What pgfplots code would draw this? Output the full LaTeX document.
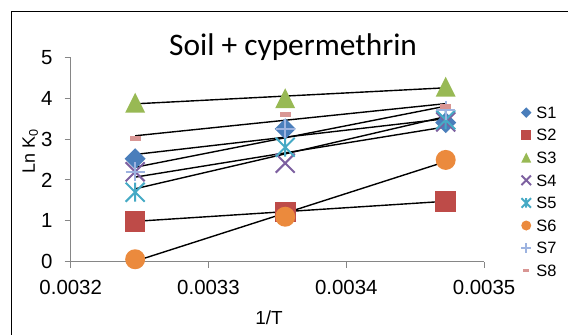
\documentclass[border=0pt]{standalone}
\usepackage{fontspec}
\setmainfont{Liberation Sans}
\newfontfamily\calibri{Carlito}
\usepackage{pgfplots}
\pgfplotsset{compat=1.18}
\usepackage{pgfplotstable}

\definecolor{cA}{HTML}{4A7EBB}
\definecolor{cB}{HTML}{BE4B48}
\definecolor{cC}{HTML}{98B954}
\definecolor{cD}{HTML}{7D60A0}
\definecolor{cE}{HTML}{46AAC5}
\definecolor{cF}{HTML}{EB8A3D}
\definecolor{cG}{HTML}{9DB3E0}
\definecolor{cH}{HTML}{D99694}
\definecolor{axgray}{HTML}{868686}

\pgfdeclareplotmark{xldia}{%
  \pgfpathmoveto{\pgfqpoint{0pt}{\pgfplotmarksize}}%
  \pgfpathlineto{\pgfqpoint{\pgfplotmarksize}{0pt}}%
  \pgfpathlineto{\pgfqpoint{0pt}{-\pgfplotmarksize}}%
  \pgfpathlineto{\pgfqpoint{-\pgfplotmarksize}{0pt}}%
  \pgfpathclose\pgfusepathqfill}
\pgfdeclareplotmark{xlsq}{%
  \pgfpathrectangle{\pgfqpoint{-\pgfplotmarksize}{-\pgfplotmarksize}}{\pgfqpoint{2\pgfplotmarksize}{2\pgfplotmarksize}}%
  \pgfusepathqfill}
\pgfdeclareplotmark{xltri}{%
  \pgfpathmoveto{\pgfqpoint{0pt}{\pgfplotmarksize}}%
  \pgfpathlineto{\pgfqpoint{\pgfplotmarksize}{-\pgfplotmarksize}}%
  \pgfpathlineto{\pgfqpoint{-\pgfplotmarksize}{-\pgfplotmarksize}}%
  \pgfpathclose\pgfusepathqfill}
\pgfdeclareplotmark{xlx}{%
  \pgfpathmoveto{\pgfqpoint{-\pgfplotmarksize}{-\pgfplotmarksize}}%
  \pgfpathlineto{\pgfqpoint{\pgfplotmarksize}{\pgfplotmarksize}}%
  \pgfpathmoveto{\pgfqpoint{-\pgfplotmarksize}{\pgfplotmarksize}}%
  \pgfpathlineto{\pgfqpoint{\pgfplotmarksize}{-\pgfplotmarksize}}%
  \pgfusepathqstroke}
\pgfdeclareplotmark{xlstar}{%
  \pgfpathmoveto{\pgfqpoint{-\pgfplotmarksize}{-\pgfplotmarksize}}%
  \pgfpathlineto{\pgfqpoint{\pgfplotmarksize}{\pgfplotmarksize}}%
  \pgfpathmoveto{\pgfqpoint{-\pgfplotmarksize}{\pgfplotmarksize}}%
  \pgfpathlineto{\pgfqpoint{\pgfplotmarksize}{-\pgfplotmarksize}}%
  \pgfpathmoveto{\pgfqpoint{0pt}{-\pgfplotmarksize}}%
  \pgfpathlineto{\pgfqpoint{0pt}{\pgfplotmarksize}}%
  \pgfusepathqstroke}
\pgfdeclareplotmark{xlplus}{%
  \pgfpathmoveto{\pgfqpoint{-\pgfplotmarksize}{0pt}}%
  \pgfpathlineto{\pgfqpoint{\pgfplotmarksize}{0pt}}%
  \pgfpathmoveto{\pgfqpoint{0pt}{-\pgfplotmarksize}}%
  \pgfpathlineto{\pgfqpoint{0pt}{\pgfplotmarksize}}%
  \pgfusepathqstroke}
\pgfdeclareplotmark{xldash}{%
  \pgfpathrectangle{\pgfqpoint{-\pgfplotmarksize}{-0.5\pgfplotmarksize}}{\pgfqpoint{2\pgfplotmarksize}{\pgfplotmarksize}}%
  \pgfusepathqfill}
\pgfdeclareplotmark{xlcirc}{%
  \pgfpathcircle{\pgfpointorigin}{\pgfplotmarksize}\pgfusepathqfill}

\pgfplotstableread{
x S1 S2 S3 S4 S5 S6 S7 S8
0.0032468 2.52 0.99 3.89 2.20 1.70 0.06 2.20 3.01
0.0033557 3.25 1.22 4.00 2.41 2.80 1.10 3.25 3.60
0.0034722 3.40 1.48 4.28 3.42 3.47 2.49 3.70 3.80
}\data

\begin{document}
\begin{tikzpicture}[x=1bp,y=1bp]
\useasboundingbox (0,0) rectangle (568,334);
\draw[black, line width=1.2bp] (11.7,-5) -- (11.7,322.3) -- (580,322.3);
\begin{axis}[
  at={(70.7bp,72.3bp)}, anchor=south west,
  scale only axis, width=413.3bp, height=204.4bp,
  xmin=0.0032, xmax=0.0035, ymin=0, ymax=5,
  axis x line=bottom, axis y line=left,
  axis line style={-, draw=axgray, line width=1bp},
  xtick={0.0032,0.0033,0.0034,0.0035}, ytick={0,1,2,3,4,5},
  scaled x ticks=false,
  /pgf/number format/assume math mode=true,
  xticklabel style={/pgf/number format/fixed, /pgf/number format/precision=4, /pgf/number format/fixed zerofill, inner sep=0pt, yshift=-12bp},
  yticklabel style={inner sep=0pt, xshift=-12bp},
  tick align=outside, major tick length=6bp,
  tick style={draw=axgray, line width=1bp},
  ticklabel style={font=\fontsize{20.5}{24}\selectfont},
  title={Soil + cypermethrin},
  title style={font=\calibri\fontsize{31.5}{37}\selectfont, at={(axis description cs:0.538,0.9785)}, anchor=base, inner sep=0pt},
  xlabel={1/T},
  xlabel style={font=\fontsize{19}{23}\selectfont, at={(axis description cs:0.48,-0.3048)}, anchor=base, inner sep=0pt},
  ylabel={Ln K\textsubscript{0}},
  ylabel style={font=\fontsize{18}{22}\selectfont, at={(axis description cs:-0.0864,0.5416)}, anchor=base, inner sep=0pt},
  clip=false,
  legend style={draw=none, fill=none, at={(axis description cs:1.089,0.759)}, anchor=north west,
    inner sep=0pt, row sep=11.1bp, column sep=5bp,
    font=\fontsize{16.5}{20}\selectfont,
    nodes={inner sep=0pt, text height=11.5bp, text depth=0pt}},
  legend cell align=left,
  legend image code/.code={\tikzset{every mark/.append style={scale=0.5}}\draw[#1] plot coordinates {(0bp,0bp)};},
]
\addplot[only marks, mark=xldia, mark size=10.5bp, cA, fill=cA] table[x=x,y=S1]{\data};
\addlegendentry{S1}
\addplot[only marks, mark=xlsq, mark size=10.3bp, cB, fill=cB] table[x=x,y=S2]{\data};
\addlegendentry{S2}
\addplot[only marks, mark=xltri, mark size=10bp, cC, fill=cC] table[x=x,y=S3]{\data};
\addlegendentry{S3}
\addplot[only marks, mark=xlx, mark size=9.5bp, cD, line width=2bp] table[x=x,y=S4]{\data};
\addlegendentry{S4}
\addplot[only marks, mark=xlstar, mark size=9.5bp, cE, line width=2bp] table[x=x,y=S5]{\data};
\addlegendentry{S5}
\addplot[only marks, mark=xlcirc, mark size=10bp, cF, fill=cF] table[x=x,y=S6]{\data};
\addlegendentry{S6}
\addplot[only marks, mark=xlplus, mark size=9.5bp, cG, line width=2bp] table[x=x,y=S7]{\data};
\addlegendentry{S7}
\addplot[only marks, mark=xldash, mark size=5.5bp, cH, fill=cH] table[x=x,y=S8]{\data};
\addlegendentry{S8}
\foreach \s in {S1,S2,S3,S4,S5,S6,S7,S8}{
  \addplot[forget plot, no marks, black, line width=1.4bp] table[x=x, y={create col/linear regression={y=\s}}]{\data};
}
\end{axis}
\end{tikzpicture}
\end{document}
